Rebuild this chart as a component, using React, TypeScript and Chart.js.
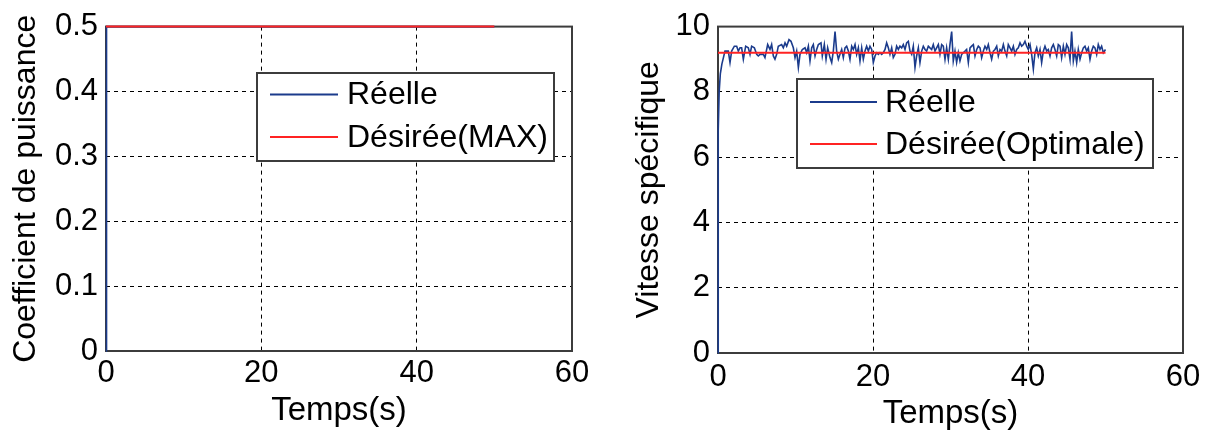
import React, { useEffect, useRef } from "react";
import { Chart, registerables } from "chart.js";

Chart.register(...registerables);

type Pt = [number, number];

const FONT = "'Liberation Sans', Arial, Helvetica, sans-serif";
const BLUE = "#1b3b8c";
const RED = "#ff2323";

// ---------- shared ----------
const xTicks = [0, 20, 40, 60];
const xTitle = "Temps(s)";
const realLabel = "Réelle";

// ---------- left chart: coefficient de puissance ----------
const cpYTicks = [0, 0.1, 0.2, 0.3, 0.4, 0.5];
const cpTitle = "Coefficient de puissance";
const cpDesiredLabel = "Désirée(MAX)";
const cpReal: Pt[] = [
  [0, 0], [0.02, 0.46], [0.05, 0.5], [0.08, 0.465], [0.12, 0.5], [0.2, 0.5], [0.3, 0.5], [50, 0.5],
];
const cpDesired: Pt[] = [[0, 0.5], [50, 0.5]];

// ---------- right chart: vitesse spécifique ----------
const lambdaYTicks = [0, 2, 4, 6, 8, 10];
const lambdaTitle = "Vitesse spécifique";
const lambdaDesiredLabel = "Désirée(Optimale)";
const lambdaDesired: Pt[] = [[0, 9.2], [50, 9.2]];
const lambdaReal: Pt[] = [
  [0, 0], [0.03, 6.8], [0.15, 8.0], [0.3, 8.55], [0.5, 8.85], [0.7, 9.05],
  [0.90, 9.25], [1.33, 9.25], [1.55, 8.9], [1.76, 9.25], [2.11, 9.4], [2.41, 9.4], [2.62, 9.25], [2.84, 9.35], [3.05, 9.35], [3.27, 9.0],
  [3.57, 9.4], [3.91, 9.35], [4.13, 9.15], [4.34, 9.4], [4.69, 9.35], [4.99, 9.15], [5.20, 9.1], [5.42, 9.15], [5.85, 9.15], [6.06, 9.05],
  [6.41, 9.45], [6.71, 9.3], [6.92, 9.45], [7.14, 9.1], [7.35, 9.0], [7.57, 9.15], [7.78, 9.4], [8.21, 9.45], [8.43, 9.35], [8.65, 9.5],
  [8.86, 9.4], [9.16, 9.6], [9.42, 9.55], [9.72, 9.35], [9.94, 9.05], [10.15, 9.25], [10.37, 8.75], [10.58, 9.15], [10.88, 9.3], [11.23, 9.35],
  [11.44, 9.2], [11.66, 9.4], [11.87, 8.95], [12.09, 9.35], [12.30, 9.45], [12.52, 9.1], [12.73, 9.3], [12.95, 9.45], [13.29, 9.5], [13.46, 9.1],
  [13.72, 9.45], [13.94, 9.0], [14.15, 9.35], [14.45, 9.05], [14.67, 8.9], [14.88, 9.25], [15.10, 9.85], [15.31, 9.25], [15.53, 9.0],
  [15.74, 9.15], [15.96, 9.3], [16.17, 9.05], [16.39, 9.35], [16.60, 9.4], [16.82, 9.25], [17.03, 9.0], [17.25, 9.4], [17.46, 9.3], [17.68, 9.45],
  [17.89, 9.15], [18.11, 9.35], [18.32, 8.95], [18.54, 9.35], [18.75, 9.0], [18.97, 9.25], [19.18, 9.4], [19.40, 9.25], [19.61, 9.4], [19.83, 9.3],
  [20.04, 8.9], [20.26, 9.1], [20.47, 9.2], [20.69, 9.15], [20.90, 9.2], [21.12, 9.15], [21.33, 9.2], [21.55, 9.3], [21.76, 9.5], [21.98, 9.35],
  [22.19, 9.15], [22.41, 9.35], [22.62, 9.05], [22.84, 9.15], [23.05, 9.4], [23.27, 9.3], [23.48, 9.4], [23.70, 9.35], [23.91, 9.45], [24.13, 9.3],
  [24.34, 9.5], [24.56, 9.55], [24.77, 9.25], [24.99, 9.15], [25.20, 9.4], [25.42, 8.75], [25.63, 9.1], [25.85, 9.35], [26.06, 8.9], [26.28, 9.25],
  [26.49, 9.4], [26.71, 9.3], [26.92, 9.25], [27.14, 9.4], [27.35, 9.35], [27.57, 9.3], [27.78, 9.45], [28.00, 9.25], [28.21, 9.35], [28.43, 9.45],
  [28.64, 9.15], [28.86, 9.45], [29.07, 9.4], [29.29, 9.0], [29.50, 9.35], [29.72, 9.0], [29.93, 9.45], [30.15, 9.85], [30.36, 8.95], [30.58, 9.25],
  [30.79, 8.9], [31.01, 9.2], [31.22, 8.95], [31.44, 9.15], [31.65, 9.2], [31.87, 9.25],
  [32.08, 9.3], [32.30, 8.9], [32.52, 9.35], [32.73, 9.4], [32.95, 9.45], [33.16, 9.1], [33.38, 9.3], [33.59, 9.4], [33.81, 9.35], [34.02, 9.05],
  [34.24, 9.25], [34.45, 9.4], [34.67, 9.3], [34.88, 9.45], [35.10, 9.2], [35.31, 9.0], [35.53, 9.25], [35.74, 9.3], [35.96, 9.4], [36.17, 9.1],
  [36.39, 9.3], [36.60, 9.25], [36.82, 9.45], [37.03, 9.25], [37.25, 9.1], [37.46, 9.45], [37.68, 9.35], [37.89, 9.25], [38.11, 9.4], [38.32, 9.15],
  [38.54, 9.3], [38.75, 9.35], [38.97, 9.5], [39.18, 9.4], [39.40, 9.45], [39.61, 9.55], [39.83, 9.4], [40.04, 9.3], [40.26, 9.45], [40.47, 9.15],
  [40.69, 8.7], [40.90, 9.2], [41.12, 9.35], [41.33, 9.1], [41.55, 9.3], [41.76, 8.9], [41.98, 9.25], [42.19, 9.4], [42.41, 9.25], [42.62, 9.3],
  [42.84, 9.1], [43.05, 9.35], [43.27, 9.45], [43.48, 9.3], [43.70, 9.1], [43.91, 9.45], [44.13, 9.4], [44.34, 9.05], [44.56, 9.4], [44.77, 9.15],
  [44.99, 9.45], [45.20, 9.35], [45.42, 9.0], [45.63, 9.85], [45.85, 8.95], [46.06, 9.25], [46.28, 8.9], [46.49, 9.3], [46.71, 9.0], [46.92, 9.2],
  [47.14, 9.35], [47.35, 9.4], [47.57, 9.25], [47.78, 9.35], [48.00, 9.0], [48.21, 9.25], [48.43, 9.4], [48.64, 9.35], [48.86, 9.15], [49.07, 9.45],
  [49.29, 9.3], [49.50, 9.4], [49.72, 9.2], [50.00, 9.3],
];

// ---------- plugins ----------
const boxPlugin = {
  id: "matlabBox",
  beforeDatasetsDraw(chart: any) {
    const { ctx, chartArea: a } = chart;
    ctx.save();
    ctx.strokeStyle = "#3c3c3c";
    ctx.lineWidth = 2;
    ctx.strokeRect(a.left, a.top, a.right - a.left, a.bottom - a.top);
    ctx.restore();
  },
};

const legendPlugin = {
  id: "matlabLegend",
  afterDraw(chart: any, _args: any, opts: any) {
    if (!opts || !opts.box) return;
    const { ctx } = chart;
    const b = opts.box;
    ctx.save();
    ctx.fillStyle = "#ffffff";
    ctx.fillRect(b.left, b.top, b.width, b.height);
    ctx.strokeStyle = "#3c3c3c";
    ctx.lineWidth = 2;
    ctx.strokeRect(b.left, b.top, b.width, b.height);
    const items = opts.order.map((i: number) => chart.data.datasets[i]);
    items.forEach((ds: any, k: number) => {
      const y = opts.rows[k];
      ctx.strokeStyle = ds.borderColor;
      ctx.lineWidth = 2;
      ctx.beginPath();
      ctx.moveTo(opts.lineX[0], y);
      ctx.lineTo(opts.lineX[1], y);
      ctx.stroke();
      ctx.fillStyle = "#000";
      ctx.font = `${opts.fontSize}px ${FONT}`;
      ctx.textAlign = "left";
      ctx.textBaseline = "middle";
      ctx.fillText(ds.label, opts.textX, y + 1);
    });
    ctx.restore();
  },
};

function buildConfig(p: any) {
  const tickFont = { family: FONT, size: 31 };
  const yTitleFont = { family: FONT, size: 32 };
  const xTitleFont = { family: FONT, size: 33 };
  return {
    type: "line",
    data: {
      datasets: [
        {
          label: realLabel,
          data: p.real.map(([x, y]: Pt) => ({ x, y })),
          borderColor: BLUE,
          borderWidth: 1.6,
          pointRadius: 0,
          tension: 0,
          order: 1,
          clip: false,
        },
        {
          label: p.desiredLabel,
          data: p.desired.map(([x, y]: Pt) => ({ x, y })),
          borderColor: RED,
          borderWidth: 2,
          pointRadius: 0,
          tension: 0,
          order: 0,
          clip: false,
        },
      ],
    },
    options: {
      animation: false,
      responsive: false,
      maintainAspectRatio: false,
      events: [],
      layout: { padding: { top: 20, right: p.padRight, bottom: 0, left: 0 } },
      plugins: {
        legend: { display: false },
        tooltip: { enabled: false },
        matlabLegend: p.legend,
      },
      scales: {
        x: {
          type: "linear",
          min: 0,
          max: 60,
          afterBuildTicks: (s: any) => {
            s.ticks = xTicks.map((v) => ({ value: v }));
          },
          afterFit: (s: any) => {
            s.height = p.xHeight;
          },
          grid: { color: "#000", lineWidth: 1, drawTicks: false },
          border: { display: false, dash: [4, 4] },
          ticks: { color: "#000", font: tickFont, padding: p.xTickPad, maxRotation: 0, autoSkip: false },
          title: { display: true, text: xTitle, color: "#000", font: xTitleFont, padding: { top: 0, bottom: p.xTitlePad } },
        },
        y: {
          type: "linear",
          min: p.yTicks[0],
          max: p.yTicks[p.yTicks.length - 1],
          afterBuildTicks: (s: any) => {
            s.ticks = p.yTicks.map((v: number) => ({ value: v }));
          },
          afterFit: (s: any) => {
            s.width = p.yWidth;
          },
          grid: { color: "#000", lineWidth: 1, drawTicks: false },
          border: { display: false, dash: [4, 4] },
          ticks: { color: "#000", font: tickFont, padding: 8, autoSkip: false },
          title: { display: true, text: p.yTitle, color: "#000", font: yTitleFont, padding: { top: p.yTitlePad, bottom: 0 } },
        },
      },
    },
    plugins: [boxPlugin, legendPlugin],
  };
}

function ChartCanvas({ config }: { config: any }) {
  const ref = useRef<HTMLCanvasElement | null>(null);
  useEffect(() => {
    if (!ref.current) return;
    const chart = new Chart(ref.current, config);
    return () => chart.destroy();
  }, [config]);
  return <canvas ref={ref} width={605} height={434} style={{ display: "block", width: 605, height: 434 }} />;
}

const leftConfig = buildConfig({
  real: cpReal,
  desired: cpDesired,
  desiredLabel: cpDesiredLabel,
  yTicks: cpYTicks,
  yTitle: cpTitle,
  padRight: 33,
  xHeight: 83,
  yWidth: 106,
  xTickPad: 4,
  xTitlePad: 3,
  yTitlePad: 7,
  legend: {
    box: { left: 257, top: 73, width: 297, height: 88 },
    order: [0, 1],
    rows: [94.5, 137],
    lineX: [270, 338],
    textX: 347,
    fontSize: 32,
  },
});

const rightConfig = buildConfig({
  real: lambdaReal,
  desired: lambdaDesired,
  desiredLabel: lambdaDesiredLabel,
  yTicks: lambdaYTicks,
  yTitle: lambdaTitle,
  padRight: 27,
  xHeight: 81,
  yWidth: 113,
  xTickPad: 6,
  xTitlePad: 0,
  yTitlePad: 25,
  legend: {
    box: { left: 192, top: 79, width: 356, height: 89 },
    order: [0, 1],
    rows: [102, 144],
    lineX: [205, 272],
    textX: 280,
    fontSize: 32,
  },
});

export default function App() {
  useEffect(() => {
    document.body.style.margin = "0";
  }, []);
  return (
    <div style={{ display: "flex", width: 1210, height: 434, background: "#fff" }}>
      <ChartCanvas config={leftConfig} />
      <ChartCanvas config={rightConfig} />
    </div>
  );
}
